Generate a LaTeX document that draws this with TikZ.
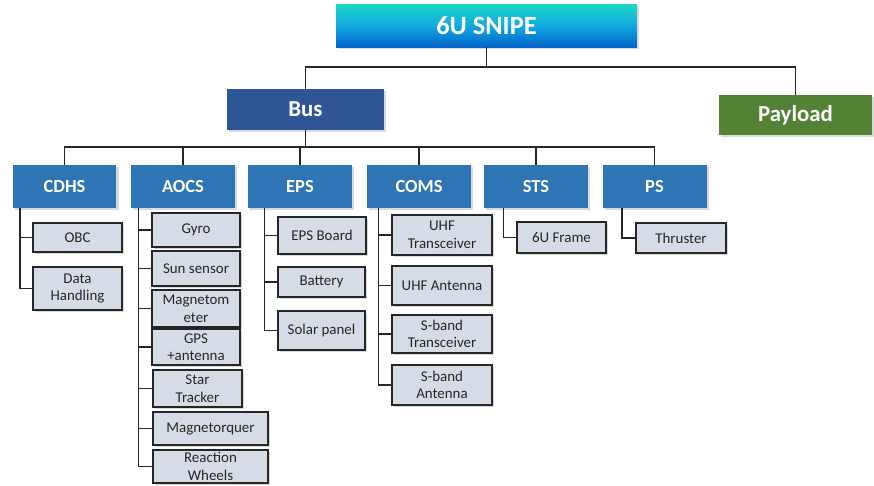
\documentclass[tikz,border=0pt]{standalone}
\usepackage{fontspec}
\setmainfont{Carlito}
\usetikzlibrary{positioning, calc, shadows}
\definecolor{snipetop}{RGB}{30,214,198}
\definecolor{snipemid}{RGB}{16,170,226}
\definecolor{snipebot}{RGB}{4,100,200}
\definecolor{busblue}{RGB}{47,85,151}
\definecolor{paygreen}{RGB}{84,130,53}
\definecolor{subblue}{RGB}{46,117,182}
\definecolor{itemgray}{RGB}{214,220,229}
\definecolor{linedark}{RGB}{38,38,38}

\begin{document}
\begin{tikzpicture}[x=0.02cm, y=-0.02cm,
    every node/.style={inner sep=1pt, align=center},
    boxshadow/.style={drop shadow={shadow xshift=1.3pt, shadow yshift=-1.3pt, opacity=0.3}},
    root/.style={boxshadow, top color=snipetop, bottom color=snipebot, middle color=snipemid, minimum width=6.02cm, minimum height=0.86cm, text=white, font=\fontsize{15}{18}\selectfont\bfseries},
    bus/.style={boxshadow, fill=busblue, minimum width=3.14cm, minimum height=0.82cm, text=white, font=\fontsize{13}{16}\selectfont\bfseries},
    payload/.style={boxshadow, fill=paygreen, minimum width=3.06cm, minimum height=0.80cm, text=white, font=\fontsize{13}{16}\selectfont\bfseries},
    sub/.style={boxshadow, fill=subblue, minimum width=2.08cm, minimum height=0.86cm, text=white, font=\fontsize{10.5}{13}\selectfont\bfseries},
    item/.style 2 args={boxshadow, fill=itemgray, draw=linedark, line width=1pt, minimum width=#1, minimum height=#2, text=black!85, font=\fontsize{8.5}{10}\selectfont},
    link/.style={draw=linedark, line width=0.85pt}
]
\useasboundingbox (0,0) rectangle (874,485);

\node[root] (snipe) at (486.5,25.5) {6U SNIPE};
\node[bus] (bus) at (305.5,109.5) {Bus};
\node[payload] (payload) at (795.5,115) {Payload};

\node[sub] (cdhs) at (64.5,186.5) {CDHS};
\node[sub] (aocs) at (183,186.5) {AOCS};
\node[sub] (eps) at (300,186.5) {EPS};
\node[sub] (coms) at (419,186.5) {COMS};
\node[sub] (sts) at (536,186.5) {STS};
\node[sub] (ps) at (654.5,186.5) {PS};

\node[item={1.78cm}{0.58cm}] (obc) at (77.5,237.5) {OBC};
\node[item={1.78cm}{0.86cm}] (dh) at (77.5,288.5) {Data\\Handling};

\node[item={1.76cm}{0.68cm}] (gyro) at (196,230) {Gyro};
\node[item={1.76cm}{0.70cm}] (sun) at (196,268.5) {Sun sensor};
\node[item={1.76cm}{0.74cm}] (magm) at (196,308.5) {Magnetom\\eter};
\node[item={1.76cm}{0.72cm}] (gps) at (196,347) {GPS\\+antenna};
\node[item={1.78cm}{0.74cm}] (star) at (197.5,388.5) {Star\\Tracker};
\node[item={2.30cm}{0.66cm}] (magq) at (210.5,428.5) {Magnetorquer};
\node[item={2.30cm}{0.66cm}] (rw) at (210.5,466.5) {Reaction\\Wheels};

\node[item={1.76cm}{0.74cm}] (epsb) at (322,235.5) {EPS Board};
\node[item={1.74cm}{0.60cm}] (batt) at (321.5,282) {Battery};
\node[item={1.74cm}{0.78cm}] (solar) at (321.5,330.5) {Solar panel};

\node[item={2.00cm}{0.80cm}] (uhft) at (442,235) {UHF\\Transceiver};
\node[item={2.00cm}{0.78cm}] (uhfa) at (442,285.5) {UHF Antenna};
\node[item={2.00cm}{0.76cm}] (sbt) at (442,334) {S-band\\Transceiver};
\node[item={2.00cm}{0.80cm}] (sba) at (442,385) {S-band\\Antenna};

\node[item={1.78cm}{0.62cm}] (frame) at (561.5,237.5) {6U Frame};
\node[item={1.80cm}{0.60cm}] (thr) at (681,238) {Thruster};

\coordinate (rootbar) at (486.5,67);
\draw[link] (snipe.south) -- (rootbar) -| (bus.north);
\draw[link] (rootbar) -| (payload.north);

\coordinate (busbar) at (305.5,147);
\draw[link] (bus.south) -- (busbar);
\foreach \s in {cdhs,aocs,eps,coms,sts,ps}
    \draw[link] (busbar) -| (\s.north);

\coordinate (cdhsT) at ($(cdhs.south west)+(8,0)$);
\coordinate (aocsT) at ($(aocs.south west)+(8,0)$);
\coordinate (epsT) at ($(eps.south west)+(17,0)$);
\coordinate (comsT) at ($(coms.south west)+(12,0)$);
\coordinate (stsT) at ($(sts.south west)+(20,0)$);
\coordinate (psT) at ($(ps.south west)+(20,0)$);

\foreach \i in {obc,dh} \draw[link] (cdhsT) |- (\i.west);
\foreach \i in {gyro,sun,magm,gps,star,magq,rw} \draw[link] (aocsT) |- (\i.west);
\foreach \i in {epsb,batt,solar} \draw[link] (epsT) |- (\i.west);
\foreach \i in {uhft,uhfa,sbt,sba} \draw[link] (comsT) |- (\i.west);
\draw[link] (stsT) |- (frame.west);
\draw[link] (psT) |- (thr.west);
\end{tikzpicture}
\end{document}
